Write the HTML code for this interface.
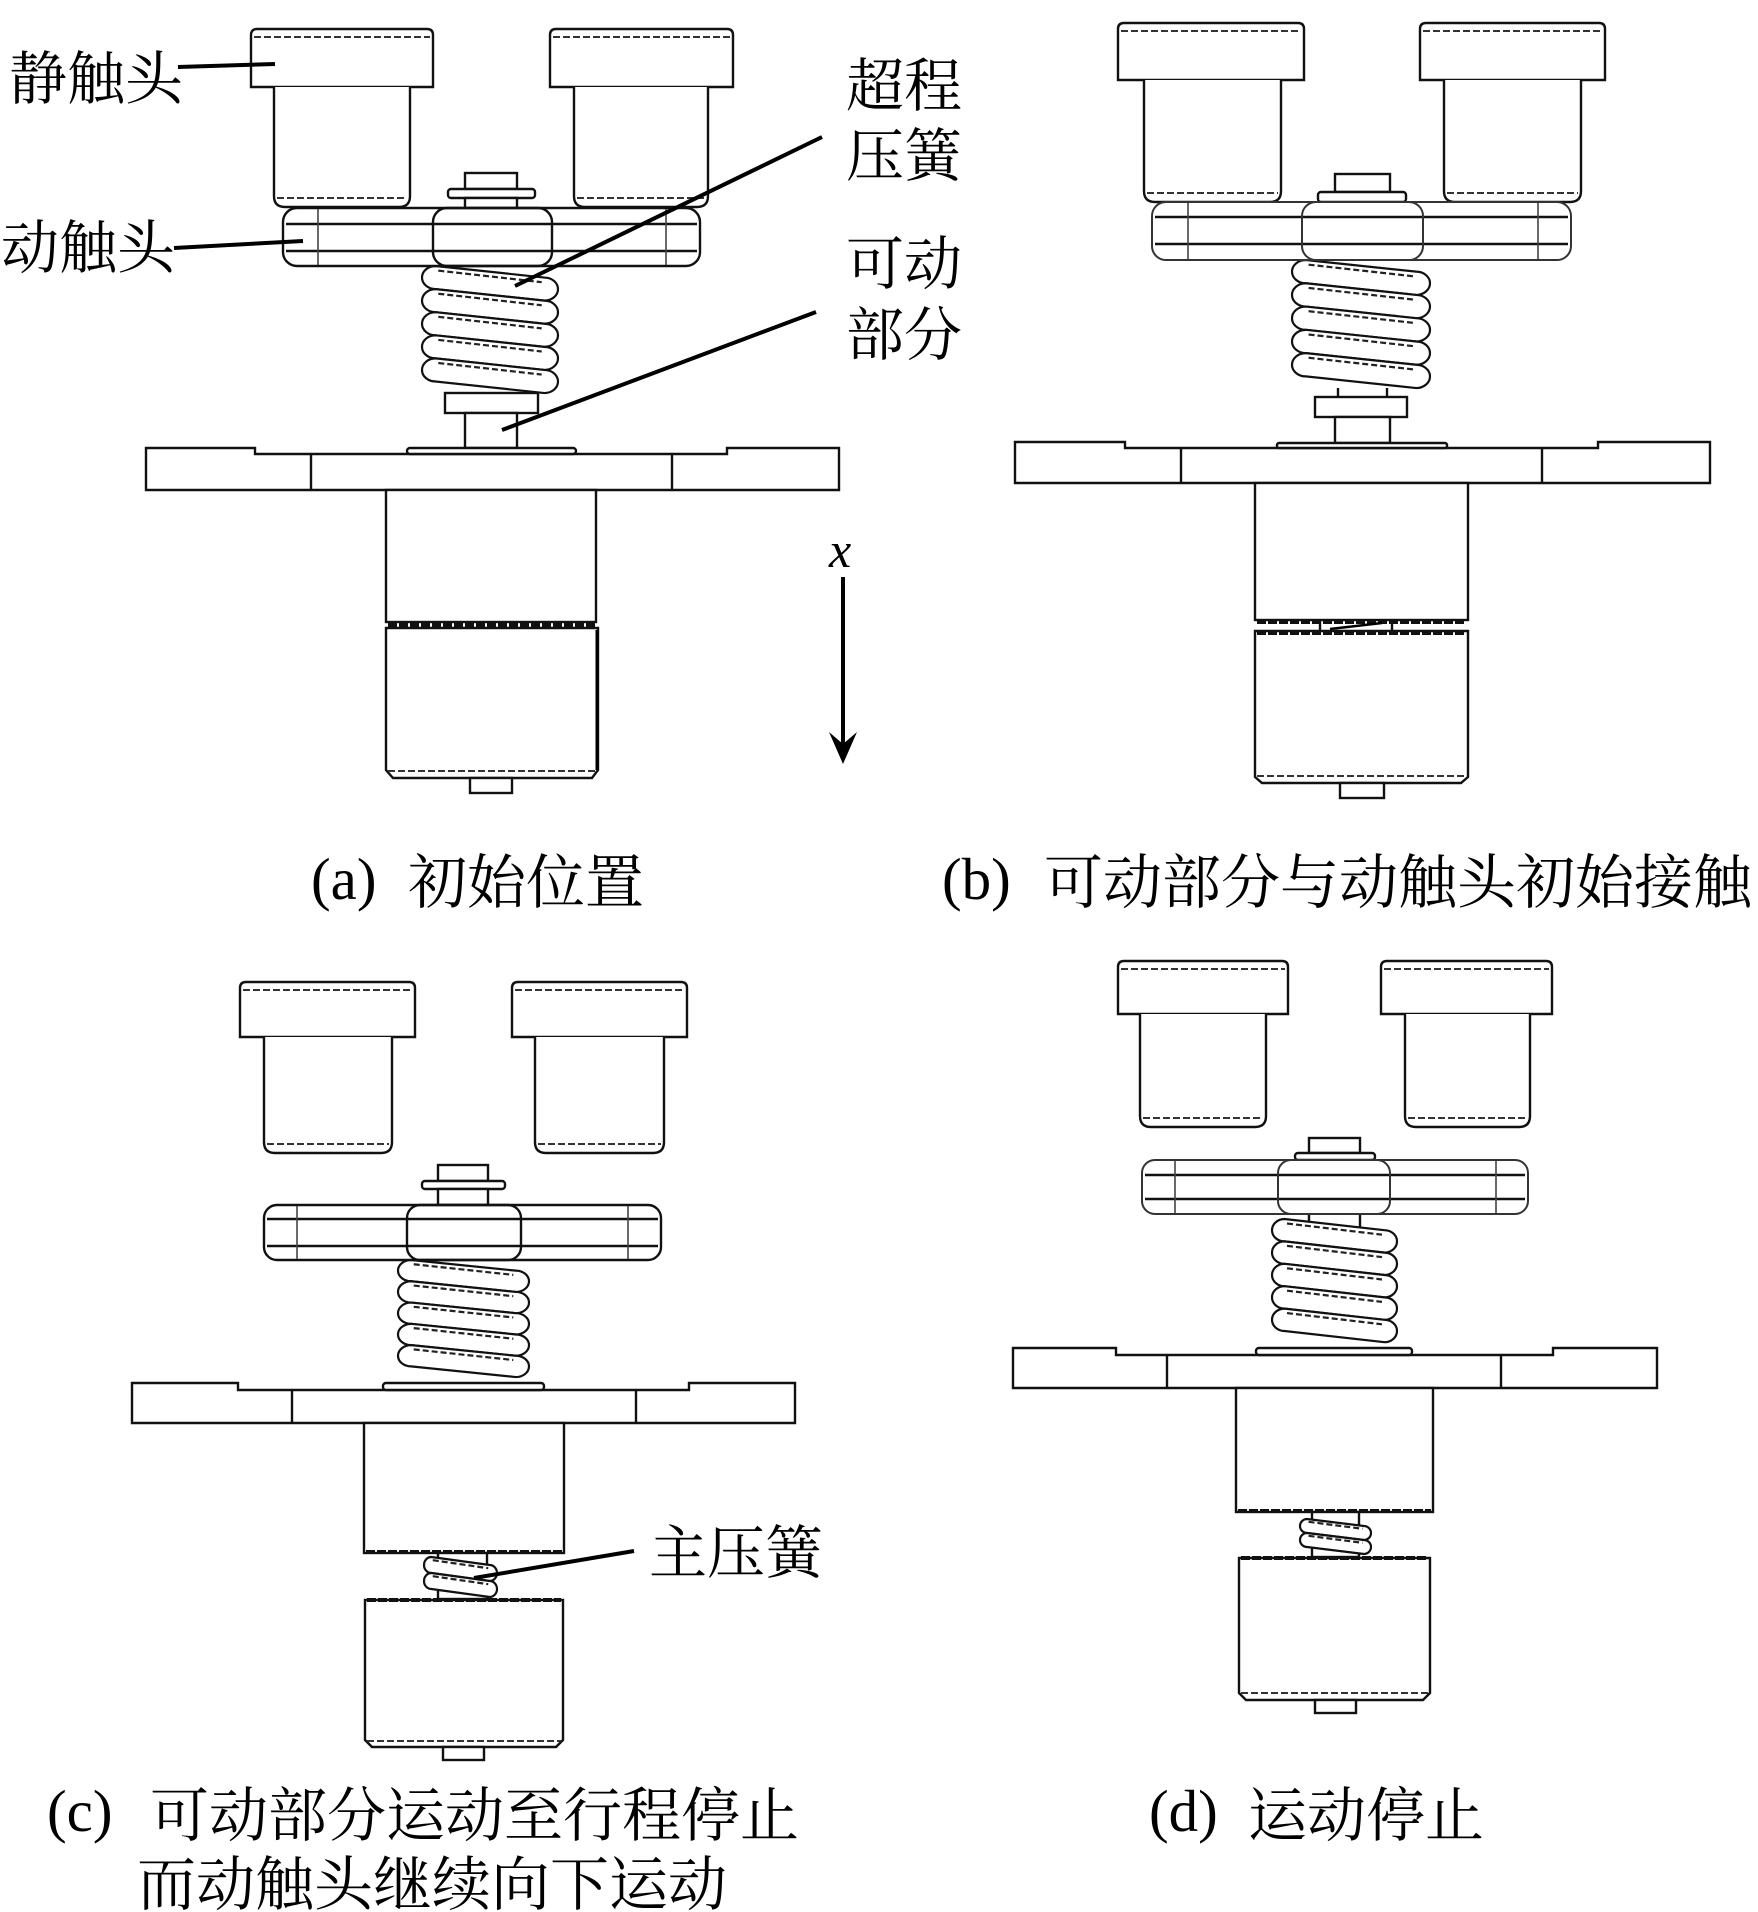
<!DOCTYPE html>
<html>
<head>
<meta charset="utf-8">
<style>
  html,body{margin:0;padding:0;background:#fff;}
  svg{display:block;}
  .o{fill:#fff;stroke:#111;stroke-width:2.4;}
  .n{fill:none;stroke:#111;stroke-width:2.4;}
  .g{fill:none;stroke:#444;stroke-width:1.6;}
  .gd{fill:none;stroke:#333;stroke-width:2;stroke-dasharray:7 3;}
  .th{fill:none;stroke:#111;stroke-width:4;stroke-dasharray:9 2;}
  .ld{stroke:#000;stroke-width:4;stroke-linecap:butt;}
  .cj{font-family:"Liberation Serif","Noto Serif CJK SC",serif;font-size:58px;fill:#000;}
  .cap{font-family:"Liberation Serif","Noto Serif CJK SC",serif;font-size:59px;fill:#000;}
  .lat{font-family:"Liberation Serif",serif;font-size:59px;fill:#000;}
</style>
</head>
<body>
<svg width="1758" height="1912" viewBox="0 0 1758 1912" xmlns="http://www.w3.org/2000/svg">
<defs>
  <g id="coil">
    <path d="M10,0 L90,10 A10,10 0 0 1 90,30 L10,20 A10,10 0 0 1 10,0 Z" fill="#fff" stroke="#111" stroke-width="2.2" vector-effect="non-scaling-stroke"/>
    <path d="M12,4 L88,14" fill="none" stroke="#222" stroke-width="2.2" stroke-dasharray="6 3" vector-effect="non-scaling-stroke"/>
  </g>
</defs>
<rect width="1758" height="1912" fill="#fff"/>

<!-- ================= PANEL (a) ================= -->
<path class="o" d="M251,87 V35 Q251,29 257,29 H427 Q433,29 433,35 V87 Z"/>
<line class="gd" x1="254" y1="37" x2="430" y2="37"/>
<path class="o" d="M274,87 V196 Q274,207 285,207 H399 Q410,207 410,196 V87"/>
<line class="gd" x1="277" y1="198" x2="407" y2="198"/>
<path class="o" d="M550,87 V35 Q550,29 556,29 H727 Q733,29 733,35 V87 Z"/>
<line class="gd" x1="553" y1="37" x2="730" y2="37"/>
<path class="o" d="M574,87 V196 Q574,207 585,207 H697 Q708,207 708,196 V87"/>
<line class="gd" x1="577" y1="198" x2="705" y2="198"/>
<rect class="o" x="465" y="173" width="52" height="16"/>
<rect class="o" x="448" y="189" width="87" height="9" rx="3"/>
<rect class="o" x="465" y="198" width="52" height="10"/>
<g transform="translate(422,266) scale(1.36,1.155)">
  <use href="#coil" y="0"/><use href="#coil" y="20"/><use href="#coil" y="40"/><use href="#coil" y="60"/><use href="#coil" y="80"/>
</g>
<rect class="o" x="283" y="208" width="417" height="58" rx="14"/>
<line class="n" x1="286" y1="224" x2="697" y2="224"/>
<line class="n" x1="286" y1="251" x2="697" y2="251"/>
<line class="g" x1="318" y1="209" x2="318" y2="265"/>
<line class="g" x1="666" y1="209" x2="666" y2="265"/>
<rect class="n" x="433" y="208" width="119" height="58" rx="14"/>
<rect class="o" x="445" y="393" width="93" height="20"/>
<rect class="o" x="465" y="413" width="52" height="35"/>
<path class="o" d="M146,448 H255 V454 H727 V448 H839 V490 H146 Z"/>
<line class="n" x1="311" y1="454" x2="311" y2="490"/>
<line class="n" x1="672" y1="454" x2="672" y2="490"/>
<rect class="o" x="407" y="448" width="169" height="6" rx="3"/>
<rect class="o" x="386" y="490" width="210" height="132"/>
<path class="o" d="M386,628 H598 V770 L592,778 H393 L386,770 Z"/>
<line class="th" x1="388" y1="625" x2="596" y2="625"/>
<line class="gd" x1="388" y1="771" x2="596" y2="771"/>
<line x1="597" y1="630" x2="597" y2="770" stroke="#000" stroke-width="3"/>
<rect class="o" x="470" y="778" width="42" height="15"/>
<line x1="843" y1="577" x2="843" y2="748" stroke="#000" stroke-width="4"/>
<path d="M843,764 L829,732 L843,744 L857,732 Z" fill="#000"/>
<text x="829" y="567" font-family="Liberation Serif, serif" font-style="italic" font-size="50" fill="#000">x</text>
<line class="ld" x1="178" y1="67" x2="275" y2="64"/>
<line class="ld" x1="174" y1="248" x2="303" y2="241"/>
<line class="ld" x1="822" y1="137" x2="515" y2="286"/>
<line class="ld" x1="816" y1="312" x2="502" y2="430"/>
<text class="cj" x="9" y="99">静触头</text>
<text class="cj" x="1" y="268">动触头</text>
<text class="cj" x="846" y="106">超程</text>
<text class="cj" x="846" y="176">压簧</text>
<text class="cj" x="846" y="284">可动</text>
<text class="cj" x="846" y="355">部分</text>
<text class="lat" x="311" y="899">(a)</text>
<text class="cap" x="408" y="903">初始位置</text>

<!-- ================= PANEL (b) ================= -->
<path class="o" d="M1118,80 V29 Q1118,23 1124,23 H1298 Q1304,23 1304,29 V80 Z"/>
<line class="gd" x1="1121" y1="31" x2="1301" y2="31"/>
<path class="o" d="M1144,80 V191 Q1144,202 1155,202 H1270 Q1281,202 1281,191 V80"/>
<line class="gd" x1="1147" y1="193" x2="1278" y2="193"/>
<path class="o" d="M1420,80 V29 Q1420,23 1426,23 H1599 Q1605,23 1605,29 V80 Z"/>
<line class="gd" x1="1423" y1="31" x2="1602" y2="31"/>
<path class="o" d="M1444,80 V191 Q1444,202 1455,202 H1570 Q1581,202 1581,191 V80"/>
<line class="gd" x1="1447" y1="193" x2="1578" y2="193"/>
<rect class="o" x="1335" y="174" width="55" height="18"/>
<rect class="o" x="1318" y="192" width="88" height="10" rx="3"/>
<g transform="translate(1292,260) scale(1.38,1.164)">
  <use href="#coil" y="0"/><use href="#coil" y="20"/><use href="#coil" y="40"/><use href="#coil" y="60"/><use href="#coil" y="80"/>
</g>
<rect x="1152" y="202" width="419" height="58" rx="14" fill="#fff" stroke="#333" stroke-width="2"/>
<line class="n" x1="1155" y1="217" x2="1568" y2="217"/>
<line class="n" x1="1155" y1="244" x2="1568" y2="244"/>
<line class="g" x1="1188" y1="203" x2="1188" y2="259"/>
<line class="g" x1="1538" y1="203" x2="1538" y2="259"/>
<rect x="1302" y="202" width="121" height="58" rx="14" fill="none" stroke="#333" stroke-width="2"/>
<line class="n" x1="1338" y1="388" x2="1338" y2="397"/>
<line class="n" x1="1387" y1="388" x2="1387" y2="397"/>
<rect class="o" x="1315" y="397" width="92" height="20"/>
<rect class="o" x="1335" y="417" width="55" height="26"/>
<path class="o" d="M1015,442 H1125 V448 H1598 V442 H1710 V483 H1015 Z"/>
<line class="n" x1="1181" y1="448" x2="1181" y2="483"/>
<line class="n" x1="1542" y1="448" x2="1542" y2="483"/>
<rect class="o" x="1277" y="443" width="170" height="5" rx="2"/>
<rect class="o" x="1255" y="483" width="213" height="137"/>
<line class="th" x1="1257" y1="622" x2="1466" y2="622"/>
<line class="n" x1="1320" y1="621" x2="1320" y2="631"/>
<line class="n" x1="1392" y1="621" x2="1392" y2="631"/>
<line x1="1330" y1="629" x2="1382" y2="623" stroke="#000" stroke-width="2.5"/>
<path class="o" d="M1255,631 H1468 V777 L1461,783 H1262 L1255,777 Z"/>
<line class="th" x1="1257" y1="633" x2="1466" y2="633"/>
<line class="gd" x1="1257" y1="776" x2="1466" y2="776"/>
<rect class="o" x="1340" y="783" width="44" height="15"/>
<text class="lat" x="942" y="899">(b)</text>
<text class="cap" x="1044" y="903">可动部分与动触头初始接触</text>

<!-- ================= PANEL (c) ================= -->
<path class="o" d="M240,1037 V988 Q240,982 246,982 H409 Q415,982 415,988 V1037 Z"/>
<line class="gd" x1="243" y1="990" x2="412" y2="990"/>
<path class="o" d="M264,1037 V1142 Q264,1153 275,1153 H381 Q392,1153 392,1142 V1037"/>
<line class="gd" x1="267" y1="1144" x2="389" y2="1144"/>
<path class="o" d="M512,1037 V988 Q512,982 518,982 H681 Q687,982 687,988 V1037 Z"/>
<line class="gd" x1="515" y1="990" x2="684" y2="990"/>
<path class="o" d="M535,1037 V1142 Q535,1153 546,1153 H653 Q664,1153 664,1142 V1037"/>
<line class="gd" x1="538" y1="1144" x2="661" y2="1144"/>
<rect class="o" x="438" y="1165" width="50" height="16"/>
<rect class="o" x="422" y="1181" width="83" height="8" rx="3"/>
<rect class="o" x="438" y="1189" width="50" height="16"/>
<g transform="translate(398,1260) scale(1.31,1.064)">
  <use href="#coil" y="0"/><use href="#coil" y="20"/><use href="#coil" y="40"/><use href="#coil" y="60"/><use href="#coil" y="80"/>
</g>
<rect class="o" x="264" y="1205" width="397" height="55" rx="13"/>
<line class="n" x1="267" y1="1219" x2="658" y2="1219"/>
<line class="n" x1="267" y1="1246" x2="658" y2="1246"/>
<line class="g" x1="297" y1="1206" x2="297" y2="1259"/>
<line class="g" x1="628" y1="1206" x2="628" y2="1259"/>
<rect class="n" x="407" y="1205" width="114" height="55" rx="13"/>
<path class="o" d="M132,1383 H238 V1390 H689 V1383 H795 V1423 H132 Z"/>
<line class="n" x1="292" y1="1390" x2="292" y2="1423"/>
<line class="n" x1="636" y1="1390" x2="636" y2="1423"/>
<rect class="o" x="383" y="1383" width="161" height="7" rx="3"/>
<rect class="o" x="364" y="1423" width="200" height="130"/>
<line class="th" x1="366" y1="1552" x2="562" y2="1552"/>
<rect class="o" x="438" y="1553" width="49" height="46"/>
<g transform="translate(424,1557) scale(0.73,0.8)">
  <use href="#coil" y="0"/><use href="#coil" y="20"/>
</g>
<path class="o" d="M365,1600 H563 V1740 L556,1747 H372 L365,1740 Z"/>
<line class="th" x1="367" y1="1600" x2="561" y2="1600"/>
<line class="gd" x1="367" y1="1741" x2="561" y2="1741"/>
<rect class="o" x="443" y="1747" width="41" height="13"/>
<line class="ld" x1="634" y1="1551" x2="474" y2="1578"/>
<text class="cj" x="649" y="1573">主压簧</text>
<text class="lat" x="47" y="1831">(c)</text>
<text class="cap" x="150" y="1836">可动部分运动至行程停止</text>
<text class="cap" x="137" y="1905">而动触头继续向下运动</text>

<!-- ================= PANEL (d) ================= -->
<path class="o" d="M1118,1014 V967 Q1118,961 1124,961 H1282 Q1288,961 1288,967 V1014 Z"/>
<line class="gd" x1="1121" y1="969" x2="1285" y2="969"/>
<path class="o" d="M1140,1014 V1116 Q1140,1127 1151,1127 H1255 Q1266,1127 1266,1116 V1014"/>
<line class="gd" x1="1143" y1="1118" x2="1263" y2="1118"/>
<path class="o" d="M1381,1014 V967 Q1381,961 1387,961 H1546 Q1552,961 1552,967 V1014 Z"/>
<line class="gd" x1="1384" y1="969" x2="1549" y2="969"/>
<path class="o" d="M1405,1014 V1116 Q1405,1127 1416,1127 H1519 Q1530,1127 1530,1116 V1014"/>
<line class="gd" x1="1408" y1="1118" x2="1527" y2="1118"/>
<rect class="o" x="1309" y="1138" width="51" height="15"/>
<rect class="o" x="1295" y="1153" width="80" height="7" rx="3"/>
<rect class="o" x="1309" y="1212" width="51" height="16"/>
<g transform="translate(1272,1219) scale(1.25,1.12)">
  <use href="#coil" y="0"/><use href="#coil" y="20"/><use href="#coil" y="40"/><use href="#coil" y="60"/><use href="#coil" y="80"/>
</g>
<rect x="1142" y="1160" width="386" height="54" rx="13" fill="#fff" stroke="#333" stroke-width="2"/>
<line class="n" x1="1145" y1="1175" x2="1525" y2="1175"/>
<line class="n" x1="1145" y1="1199" x2="1525" y2="1199"/>
<line class="g" x1="1175" y1="1161" x2="1175" y2="1213"/>
<line class="g" x1="1496" y1="1161" x2="1496" y2="1213"/>
<rect x="1278" y="1160" width="112" height="54" rx="13" fill="none" stroke="#333" stroke-width="2"/>
<path class="o" d="M1013,1348 H1116 V1355 H1553 V1348 H1657 V1388 H1013 Z"/>
<line class="n" x1="1167" y1="1355" x2="1167" y2="1388"/>
<line class="n" x1="1501" y1="1355" x2="1501" y2="1388"/>
<rect class="o" x="1256" y="1348" width="156" height="7" rx="3"/>
<rect class="o" x="1236" y="1388" width="197" height="124"/>
<line class="th" x1="1238" y1="1511" x2="1431" y2="1511"/>
<rect class="o" x="1312" y="1512" width="47" height="45"/>
<g transform="translate(1300,1519) scale(0.71,0.7)">
  <use href="#coil" y="0"/><use href="#coil" y="20"/>
</g>
<path class="o" d="M1239,1558 H1430 V1693 L1423,1700 H1246 L1239,1693 Z"/>
<line class="th" x1="1241" y1="1558" x2="1428" y2="1558"/>
<line class="gd" x1="1241" y1="1693" x2="1428" y2="1693"/>
<rect class="o" x="1315" y="1700" width="41" height="13"/>
<text class="lat" x="1149" y="1831">(d)</text>
<text class="cap" x="1248" y="1836">运动停止</text>
</svg>
</body>
</html>
